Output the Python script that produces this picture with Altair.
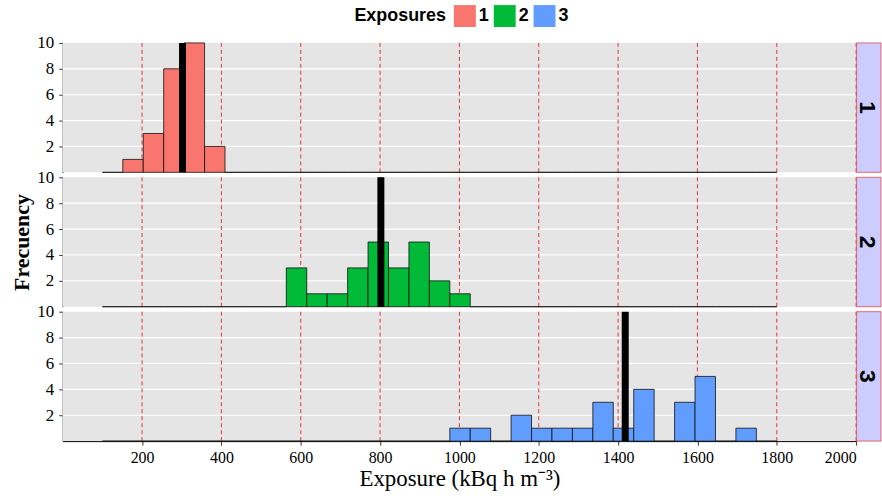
import altair as alt
import pandas as pd

# ---------------- data ----------------
exposures = ["1", "2", "3"]
colors = ["#F8766D", "#00BA38", "#619CFF"]
BIN_START = 100
BIN_WIDTH = 1700 / 33
N_BINS = 33
first_bin = [1, 9, 17]
counts = [
    [1, 3, 8, 10, 2],
    [3, 1, 1, 3, 5, 3, 5, 2, 1],
    [1, 1, 0, 2, 1, 1, 1, 3, 1, 4, 0, 3, 5, 0, 1],
]
means = [302, 802, 1418]
x_ticks = [200, 400, 600, 800, 1000, 1200, 1400, 1600, 1800, 2000]
y_ticks = [2, 4, 6, 8, 10]
y_grid = [2, 4, 6, 8]

# ---------------- layout constants ----------------
XR = 797      # pixel range for 0..2000
W = 821       # panel width incl. strip
H = 130       # panel height
SERIF = "Liberation Serif"
SANS = "Liberation Sans"

xscale = alt.Scale(domain=[0, 2000], range=[0, XR], nice=False, zero=False)
yscale = alt.Scale(domain=[0, 10], nice=False, zero=True)
cscale = alt.Scale(domain=exposures, range=colors)

legend = alt.Legend(
    orient="none", legendX=293, legendY=-38, direction="horizontal",
    titleOrient="left", title="Exposures", symbolType="square", symbolSize=484,
    symbolStrokeWidth=0, symbolOpacity=1, labelFont=SANS, labelFontWeight="bold",
    labelFontSize=18, labelColor="black", titleFont=SANS, titleFontWeight="bold",
    titleFontSize=18, titleColor="black", labelOffset=3, columnPadding=4,
    titlePadding=7,
)


def panel(i):
    rows = []
    for b in range(N_BINS):
        k = b - first_bin[i]
        c = counts[i][k] if 0 <= k < len(counts[i]) else 0
        rows.append({"x0": BIN_START + b * BIN_WIDTH,
                     "x1": BIN_START + (b + 1) * BIN_WIDTH,
                     "count": c, "Exposures": exposures[i]})
    df = pd.DataFrame(rows)
    one = pd.DataFrame({"a": [0]})

    bottom = i == 2
    xaxis = alt.Axis(values=x_ticks, format="d", grid=False, domainColor="black",
                     tickColor="#333", tickSize=4, labelFont=SERIF, labelFontSize=16,
                     labelColor="black", labelPadding=4, title="Exposure (kBq h m⁻³)",
                     titleFont=SERIF, titleFontSize=23, titleFontWeight="normal",
                     titleColor="black", titlePadding=3) if bottom else None
    yaxis = alt.Axis(values=y_ticks, format="d", grid=False, domainColor="black",
                     tickColor="#333", tickSize=4, labelFont=SERIF, labelFontSize=17,
                     labelColor="black", labelPadding=5,
                     title="Frecuency" if i == 1 else "", titleFont=SERIF,
                     titleFontSize=22, titleFontWeight="bold", titleColor="black",
                     titlePadding=3)

    bg = alt.Chart(one).mark_rect(color="#E5E5E5").encode(
        x=alt.value(0), x2=alt.value(XR), y=alt.value(0), y2=alt.value(H))
    hgrid = alt.Chart(pd.DataFrame({"g": y_grid})).mark_rule(
        color="white", strokeWidth=1.2).encode(
        y=alt.Y("g:Q", scale=yscale, axis=yaxis), x=alt.value(0), x2=alt.value(XR))
    vgrid = alt.Chart(pd.DataFrame({"v": x_ticks})).mark_rule(
        color="#E8202A", strokeDash=[4, 3], strokeWidth=0.9).encode(
        x=alt.X("v:Q", scale=xscale, axis=xaxis), y=alt.value(0), y2=alt.value(H))
    bars = alt.Chart(df).mark_rect(stroke="#111", strokeWidth=0.8).encode(
        x=alt.X("x0:Q", scale=xscale, axis=xaxis),
        x2="x1:Q",
        y=alt.Y("count:Q", scale=yscale, axis=yaxis),
        y2=alt.datum(0),
        color=alt.Color("Exposures:N", scale=cscale, legend=legend),
    )
    mean = alt.Chart(pd.DataFrame({"m": [means[i]]})).mark_rule(
        color="black", strokeWidth=7).encode(
        x=alt.X("m:Q", scale=xscale, axis=xaxis), y=alt.value(0), y2=alt.value(H))
    strip = alt.Chart(one).mark_rect(fill="#CCCCFF", stroke="#E0303A", strokeWidth=0.7).encode(
        x=alt.value(XR + 0.5), x2=alt.value(W + 1), y=alt.value(0), y2=alt.value(H))
    strip_text = alt.Chart(pd.DataFrame({"lab": [exposures[i]]})).mark_text(
        angle=90, font=SANS, fontWeight="bold", fontSize=23, align="center",
        baseline="alphabetic", color="black").encode(
        x=alt.value(XR + 4), y=alt.value(H / 2), text="lab:N")

    return alt.layer(bg, hgrid, vgrid, bars, mean, strip, strip_text).properties(
        width=W, height=H)


chart = alt.vconcat(panel(0), panel(1), panel(2), spacing=5, bounds="flush").properties(
    padding={"left": 11, "top": 4, "right": 0, "bottom": 0}
).configure_view(stroke=None).configure_axis(
    labelFont=SERIF, titleFont=SERIF
)

chart.save("out.html", embed_options={"renderer": "svg", "actions": False})
